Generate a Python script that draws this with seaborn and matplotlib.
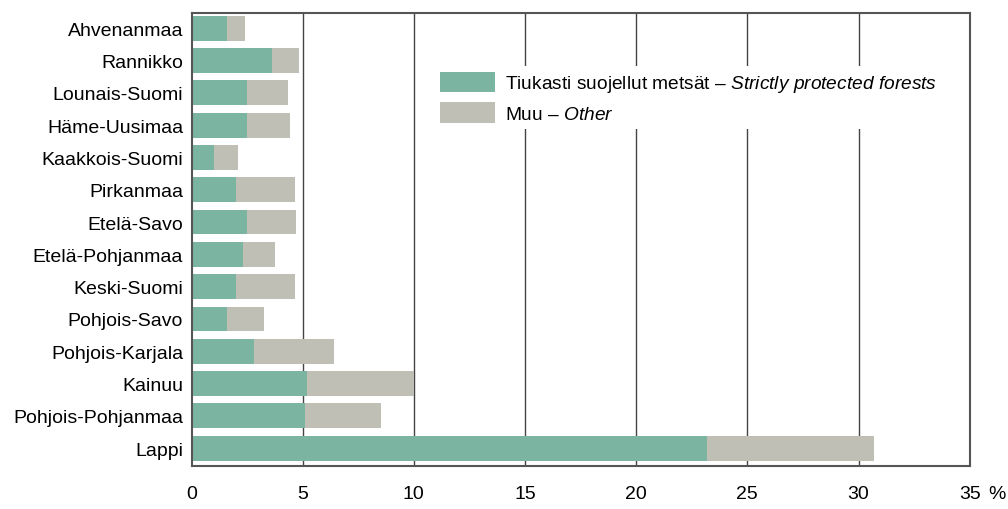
import pandas as pd
import numpy as np
import matplotlib
matplotlib.use("Agg")
import matplotlib.pyplot as plt
import seaborn as sns
from matplotlib.patches import Patch

regions = ["Ahvenanmaa", "Rannikko", "Lounais-Suomi", "Häme-Uusimaa", "Kaakkois-Suomi",
           "Pirkanmaa", "Etelä-Savo", "Etelä-Pohjanmaa", "Keski-Suomi", "Pohjois-Savo",
           "Pohjois-Karjala", "Kainuu", "Pohjois-Pohjanmaa", "Lappi"]
strict = [1.6, 3.6, 2.5, 2.5, 1.0, 2.0, 2.5, 2.3, 2.0, 1.6, 2.8, 5.2, 5.1, 23.2]
total = [2.4, 4.85, 4.35, 4.45, 2.1, 4.65, 4.7, 3.75, 4.65, 3.25, 6.4, 10.0, 8.5, 30.7]
xticks = [0, 5, 10, 15, 20, 25, 30, 35]

green = "#7bb4a0"
grey = "#bfbfb6"

sns.set_style("white")
plt.rcParams['font.family'] = ['Liberation Sans', 'DejaVu Sans']
plt.rcParams['mathtext.fontset'] = 'custom'
plt.rcParams['mathtext.it'] = 'Liberation Sans:italic'
plt.rcParams['mathtext.rm'] = 'Liberation Sans'
plt.rcParams['text.color'] = 'black'
plt.rcParams['xtick.color'] = 'black'
plt.rcParams['ytick.color'] = 'black'

df = pd.DataFrame({"region": regions, "strict": strict, "total": total})

fig, ax = plt.subplots(figsize=(10.08, 5.1), dpi=100)
fig.subplots_adjust(left=0.19, right=0.962, top=0.972, bottom=0.085)

sns.barplot(data=df, x="total", y="region", color=grey, orient="h", width=0.77,
            saturation=1, linewidth=0, ax=ax)
sns.barplot(data=df, x="strict", y="region", color=green, orient="h", width=0.77,
            saturation=1, linewidth=0, ax=ax)

ax.set_xlim(0, 35)
ax.set_ylim(13.54, -0.46)
ax.set_xticks(xticks)
ax.set_xticklabels([str(t) for t in xticks])
ax.set_xlabel("")
ax.set_ylabel("")
ax.set_axisbelow(True)
for t in xticks[1:-1]:
    ax.axvline(t, color="#444444", lw=1, zorder=0)

for s in ax.spines.values():
    s.set_color("#555555")
    s.set_linewidth(1.5)
    s.set_visible(True)

ax.tick_params(axis="x", direction="out", length=8, width=1, color="#333333",
               labelsize=14, pad=6)
ax.tick_params(axis="y", length=0, labelsize=14, pad=6)
# percent sign after the last tick label
ax.annotate("%", xy=(35, 13.54), xycoords="data", xytext=(13, -14),
            textcoords="offset points", ha="left", va="top", fontsize=14,
            annotation_clip=False)

handles = [Patch(color=green, linewidth=0), Patch(color=grey, linewidth=0)]
labels = [r"Tiukasti suojellut metsät – $\mathit{Strictly\ protected\ forests}$",
          r"Muu – $\mathit{Other}$"]
leg = ax.legend(handles, labels, loc="upper left", bbox_to_anchor=(0.3, 0.905),
                fontsize=13.8, frameon=True, framealpha=1, edgecolor="white",
                handlelength=2.85, handleheight=1.3, labelspacing=0.4,
                handletextpad=0.55, borderpad=0.3)
leg.get_frame().set_linewidth(0)

fig.savefig("out.png", dpi=100)
